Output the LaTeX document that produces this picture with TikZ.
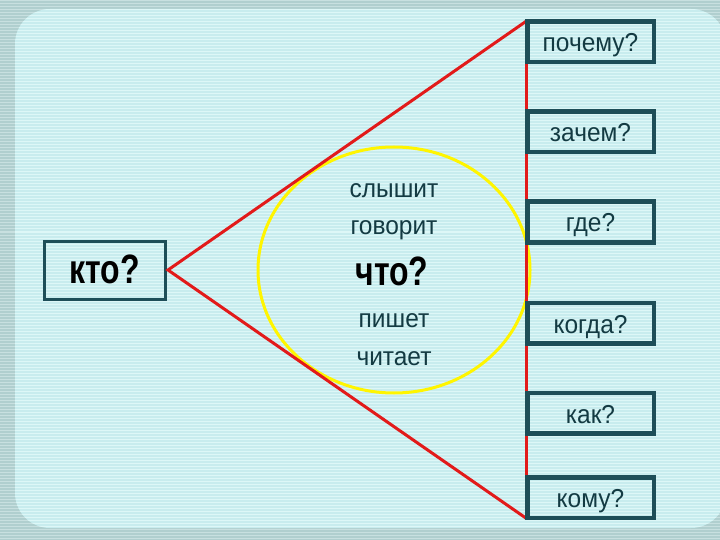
\documentclass[tikz,border=0pt]{standalone}
\usepackage{fontspec}
\setmainfont{Liberation Sans}
\definecolor{outerbg}{HTML}{B0CFCF}
\definecolor{outerstripe}{HTML}{C8E0E0}
\definecolor{panelbg}{HTML}{C8ECEE}
\definecolor{panelstripe}{HTML}{DDF7F7}
\definecolor{boxline}{HTML}{1D4E58}
\definecolor{tealtext}{HTML}{133A42}
\definecolor{redline}{HTML}{E21A1A}
\definecolor{yellowline}{HTML}{FFF500}
\tikzset{
  qbox/.style={draw=boxline, line width=3pt, minimum width=125pt, minimum height=39pt,
    inner sep=0pt, text height=20pt, text depth=0pt, text=tealtext,
    font=\fontsize{24}{28}\selectfont},
  bigbox/.style={draw=boxline, line width=3pt, minimum width=121pt, minimum height=58pt,
    inner sep=0pt, text height=26pt, text depth=0pt, text=black},
  verb/.style={anchor=base, inner sep=0pt, text=tealtext, font=\fontsize{24}{28}\selectfont},
  redl/.style={draw=redline, line width=3pt},
  yell/.style={draw=yellowline, line width=3pt}
}
\newcommand{\bigq}[1]{\scalebox{0.78}[1]{\fontsize{41}{45}\selectfont\bfseries #1}}
\newcommand{\tallt}[1]{\scalebox{1.02}[1.08]{#1}}
\begin{document}
\begin{tikzpicture}[x=1pt,y=-1pt]
\useasboundingbox (0,0) rectangle (720,540);
% background
\fill[outerbg] (0,0) rectangle (720,540);
\foreach \y in {1,4,...,540} \draw[outerstripe, line width=1pt] (0,\y) -- (720,\y);
\begin{scope}
\clip[rounded corners=35pt] (15,9) rectangle (726,528);
\fill[panelbg] (0,0) rectangle (720,540);
\foreach \y in {1,4,...,540} \draw[panelstripe, line width=1pt] (0,\y) -- (720,\y);
\end{scope}
% yellow circle
\draw[yell] (394,270) ellipse [x radius=136pt, y radius=123pt];
% left box
\node[bigbox] (kto) at (104.5,270) {\bigq{кто?}};
\coordinate (apex) at (168,270);
% right boxes
\node[qbox] (pochemu) at (590.5,42) {\tallt{почему?}};
\node[qbox] (zachem) at (590.5,132) {\tallt{зачем?}};
\node[qbox] (gde) at (590.5,222) {\tallt{где?}};
\node[qbox] (kogda) at (590.5,323) {\tallt{когда?}};
\node[qbox] (kak) at (590.5,413) {\tallt{как?}};
\node[qbox] (komu) at (590.5,497.5) {\tallt{кому?}};
% red lines
\draw[redl] (pochemu.north west) -- (apex) -- (komu.south west);
\draw[redl] (pochemu.north west) -- (komu.south west);
% redraw box frames on top of the red line
\foreach \n in {pochemu,zachem,gde,kogda,kak,komu}
  \draw[boxline, line width=3pt] (\n.north west) rectangle (\n.south east);
% verbs
\node[verb] (slyshit) at (394,198) {\tallt{слышит}};
\node[verb] (govorit) at (394,235) {\tallt{говорит}};
\node[anchor=base, inner sep=0pt, text=black] (chto) at (392,285) {\bigq{что?}};
\node[verb] (pishet) at (394,327) {\tallt{пишет}};
\node[verb] (chitaet) at (394,365) {\tallt{читает}};
\end{tikzpicture}
\end{document}
